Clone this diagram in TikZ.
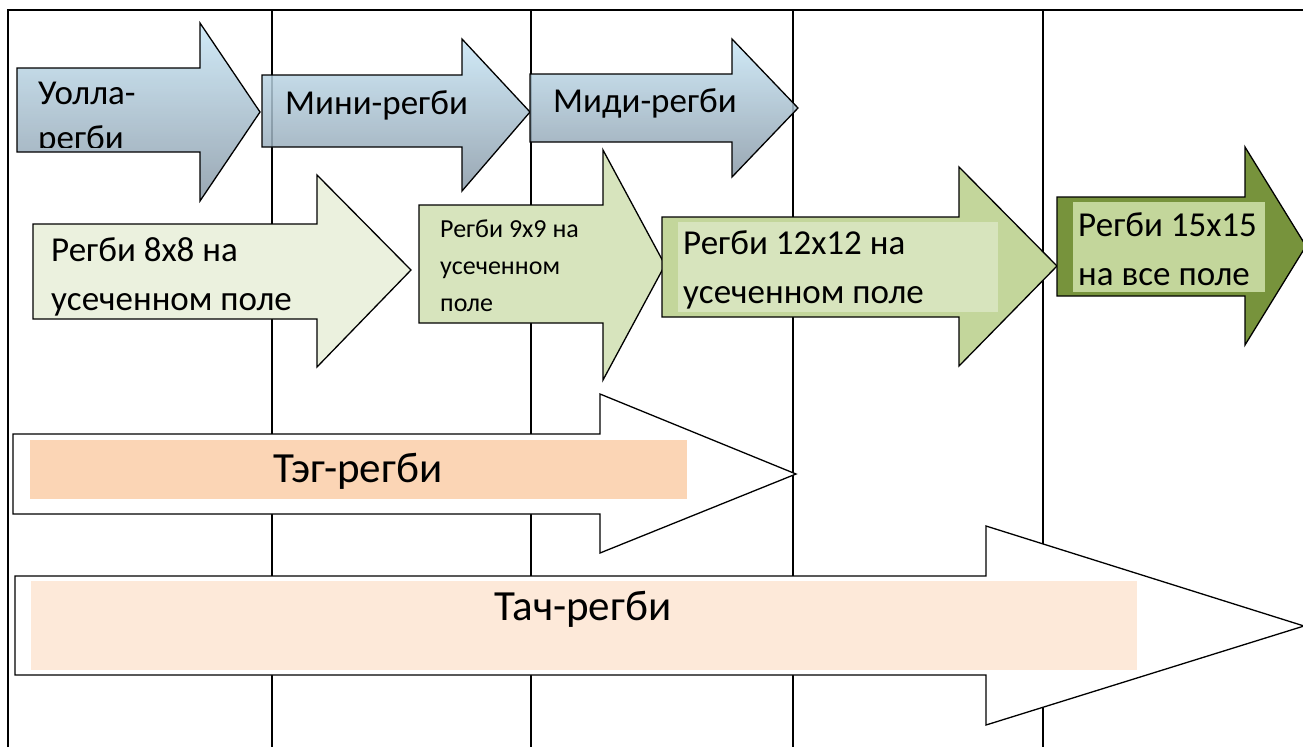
\documentclass[tikz,border=0pt]{standalone}
\usepackage{fontspec}
\setmainfont{Carlito}
\definecolor{bluetop}{RGB}{200,230,246}
\definecolor{bluebot}{RGB}{136,152,166}
\definecolor{paleg}{RGB}{235,241,222}
\definecolor{lightg}{RGB}{215,228,189}
\definecolor{midg}{RGB}{195,214,155}
\definecolor{darkg}{RGB}{119,147,60}
\definecolor{tagfill}{RGB}{251,213,181}
\definecolor{touchfill}{RGB}{253,233,217}
% arrow outline: style, left x, head x, body top, body bottom, head top, head bottom, tip
\newcommand{\harrow}[8]{\draw[#1] (#2,#4) -- (#3,#4) -- (#3,#6) -- (#8) -- (#3,#7) -- (#3,#5) -- (#2,#5) -- cycle;}

\begin{document}
\begin{tikzpicture}[x=1pt,y=-1pt,
  grid/.style={line width=1.3pt},
  arr/.style={line width=1.3pt, line join=miter},
  bluearr/.style={arr, top color=bluetop, bottom color=bluebot, fill opacity=0.85},
  palearr/.style={arr, fill=paleg},
  lightarr/.style={arr, fill=lightg},
  midarr/.style={arr, fill=midg},
  darkarr/.style={arr, fill=darkg},
  whitearr/.style={arr, fill=white},
  lbl/.style={inner sep=0pt, anchor=base west, font=\fontsize{35}{49}\selectfont, align=left},
  small/.style={lbl, font=\fontsize{26}{37}\selectfont},
  big/.style={inner sep=0pt, anchor=base, font=\fontsize{43}{49}\selectfont}]
\useasboundingbox (0,0) rectangle (1303,747);

% table lines
\draw[grid] (8,747) -- (8,10) -- (1303,10);
\foreach \x in {272,531,793,1043}
  \draw[grid] (\x,10) -- (\x,747);

% first row
\harrow{bluearr}{17}{200}{68}{152}{23}{201}{260,112}
\harrow{bluearr}{262}{462}{75}{147}{39}{191}{530,112}
\harrow{bluearr}{530}{732}{74}{142}{39}{177}{798,108}
\node[lbl] (wolla) at (38,104) {Уолла-};
\begin{scope}
  \clip (17,68) rectangle (200,147);
  \node[lbl] (wolla2) at (38,149) {регби};
\end{scope}
\node[lbl] (mini) at (285,114) {Мини-регби};
\node[lbl] (midi) at (553,112) {Миди-регби};

% second row
\harrow{palearr}{33}{317}{224}{319}{175}{367}{411,270}
\harrow{lightarr}{419}{603}{205}{323}{150}{380}{665,265}
\harrow{midarr}{662}{959}{217}{317}{167}{366}{1057,266}
\fill[lightg] (678,222) rectangle (998,312);
\harrow{darkarr}{1057}{1245}{197}{296}{147}{345}{1306,246}
\fill[midg] (1073,202) rectangle (1265,292);
\node[lbl] (r8) at (51,310) {Регби 8х8 на\\усеченном поле};
\node[small] (r9) at (440,311) {Регби 9х9 на\\усеченном\\поле};
\node[lbl] (r12) at (683,303) {Регби 12х12 на\\усеченном поле};
\node[lbl] (r15) at (1078,285) {Регби 15х15\\на все поле};

% long arrows
\harrow{whitearr}{13}{600}{434}{514}{394}{553}{796,474}
\fill[tagfill] (30,440) rectangle (687,499);
\node[big] (tag) at (358,482) {Тэг-регби};
\harrow{whitearr}{15}{986}{576}{675}{526}{725}{1304,626}
\fill[touchfill] (31,581) rectangle (1137,670);
\node[big] (touch) at (583,620) {Тач-регби};
\end{tikzpicture}
\end{document}
